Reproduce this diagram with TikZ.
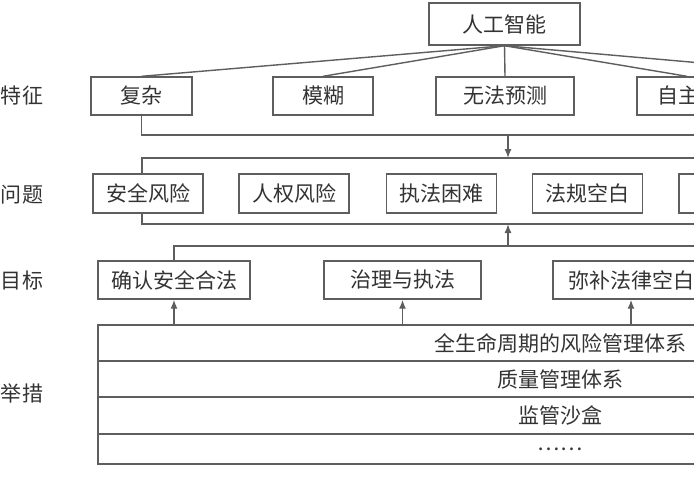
\documentclass[tikz,border=0pt]{standalone}
\usepackage{fontspec}
\newfontfamily\cjk{Noto Sans CJK SC}
\usepackage{tikz}
\usetikzlibrary{arrows.meta}
\definecolor{linegray}{HTML}{5E5E5E}
\definecolor{textgray}{HTML}{333333}
\tikzset{
  box/.style={draw=linegray, line width=0.7pt, text=textgray,
    font=\cjk\fontsize{10.5}{12}\selectfont, inner sep=0pt},
  lab/.style={text=textgray, font=\cjk\fontsize{10.5}{12}\selectfont, inner sep=0pt},
  conn/.style={draw=linegray, line width=0.7pt},
  arr/.style={conn, -{Latex[length=4.5pt,width=3.5pt]}}
}
\begin{document}
\begin{tikzpicture}[x=0.5pt,y=-0.5pt]
		\useasboundingbox (0,0) rectangle (694,478);
		\fill[white] (0,0) rectangle (694,478);
		\clip (0,0) rectangle (694,478);
		% top
		\node[box, minimum width=75.5pt, minimum height=21pt] (AI) at (504.5,24) {人工智能};
		% features
		\node[box, minimum width=50.5pt, minimum height=19pt] (F1) at (141.5,96) {复杂};
		\node[box, minimum width=50pt, minimum height=19pt] (F2) at (323,96) {模糊};
		\node[box, minimum width=69pt, minimum height=19pt] (F3) at (505,96) {无法预测};
		\node[box, minimum width=50pt, minimum height=19pt, text width=30pt, align=left] (F4) at (687,96) {自主};
		\coordinate (F5) at (861,77);
		\draw[conn] (AI.south) -- (F1.north);
		\draw[conn] (AI.south) -- (F2.north);
		\draw[conn] (AI.south) -- (F3.north);
		\draw[conn] (AI.south) -- (F4.north);
		\draw[conn] (AI.south) -- (F5);
		% problems
		\node[box, minimum width=55pt, minimum height=19.5pt] (P1) at (148,193.5) {安全风险};
		\node[box, minimum width=55pt, minimum height=19.5pt] (P2) at (294,193.5) {人权风险};
		\node[box, minimum width=55pt, minimum height=19.5pt] (P3) at (441.5,193.5) {执法困难};
		\node[box, minimum width=55pt, minimum height=19.5pt] (P4) at (587.5,193.5) {法规空白};
		\node[box, minimum width=55pt, minimum height=19.5pt] (P5) at (734,193.5) {};
		\coordinate (R1) at (720,135);
		\coordinate (R2) at (720,158);
		\coordinate (L2) at (142,158);
		\coordinate (A1) at (508,135);
		\coordinate (A2) at (508,158);
		\draw[conn] (F1.south) |- (R1);
		\draw[arr] (A1) -- (A2);
		\draw[conn] (R2) -- (L2) -- (L2 |- P1.north);
		% goals
		\node[box, minimum width=76pt, minimum height=19pt] (G1) at (174,280) {确认安全合法};
		\node[box, minimum width=78.5pt, minimum height=19pt] (G2) at (402.5,280) {治理与执法};
		\node[box, minimum width=78pt, minimum height=19pt] (G3) at (631,280) {弥补法律空白};
		\coordinate (R3) at (720,224);
		\coordinate (R4) at (720,246);
		\coordinate (A3) at (508,246);
		\coordinate (A4) at (508,224);
		\draw[conn] (L2 |- P1.south) |- (R3);
		\draw[arr] (A3) -- (A4);
		\draw[conn] (R4) -| (G1.north);
		% measures
		\node[box, minimum width=462pt, minimum height=18pt] (M1) at (560,343) {全生命周期的风险管理体系};
		\node[box, minimum width=462pt, minimum height=18pt] (M2) at (560,379) {质量管理体系};
		\node[box, minimum width=462pt, minimum height=18.5pt] (M3) at (560,415.5) {监管沙盒};
		\node[box, minimum width=462pt, minimum height=15pt] (M4) at (560,449) {……};
		\draw[arr] (M1.north -| G1) -- (G1.south);
		\draw[arr] (M1.north -| G2) -- (G2.south);
		\draw[arr] (M1.north -| G3) -- (G3.south);
		% row labels
		\node[lab] (T1) at (22,96) {特征};
		\node[lab] (T2) at (22,195) {问题};
		\node[lab] (T3) at (22,280) {目标};
		\node[lab] (T4) at (22,393) {举措};
\end{tikzpicture}
\end{document}
